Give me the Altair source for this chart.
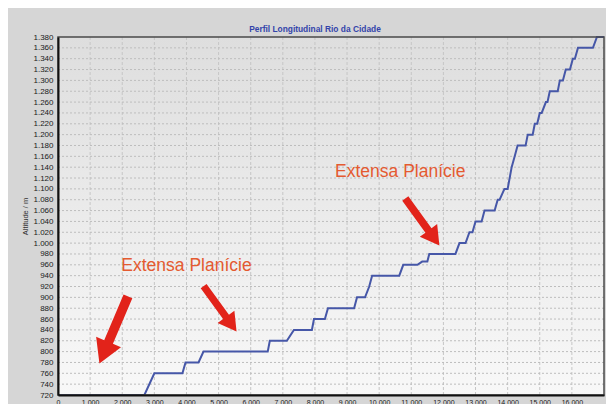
import altair as alt
import pandas as pd

# ---- data ----
distance = [0, 2690, 3000, 3875, 3970, 4375, 4530, 6530, 6595, 7125, 7345, 7905, 7970,
            8310, 8405, 9220, 9310, 9560, 9690, 9780, 10625, 10750, 11190, 11340, 11500,
            11560, 12375, 12500, 12690, 12810, 12905, 13000, 13190, 13280, 13595, 13690,
            13750, 13900, 14000, 14125, 14220, 14310, 14560, 14625, 14780, 14845, 14920,
            15000, 15060, 15190, 15240, 15312, 15560, 15625, 15720, 15810, 15940, 16030,
            16094, 16190, 16656, 16780, 17000]
altitude = [720, 720, 760, 760, 780, 780, 800, 800, 820, 820, 840, 840, 860,
            860, 880, 880, 900, 900, 920, 940, 940, 960, 960, 966, 966,
            980, 980, 1000, 1000, 1020, 1020, 1040, 1040, 1060, 1060, 1080,
            1080, 1100, 1100, 1140, 1160, 1180, 1180, 1200, 1200, 1220, 1220,
            1240, 1240, 1260, 1260, 1280, 1280, 1300, 1300, 1320, 1320, 1340,
            1340, 1360, 1360, 1380, 1380]

y_ticks = list(range(720, 1381, 20))
x_ticks = list(range(0, 16001, 1000))

note_text = ["Extensa Planície", "Extensa Planície"]
note_x = [4000, 10656]
note_y = [957, 1132]

arrow_x = [1734, 5047, 11344]
arrow_y = [840, 879, 1039]
arrow_len = [73, 56, 58]
arrow_angle = [203, 144, 144]

title_text = "Perfil Longitudinal Rio da Cidade"
y_title = "Altitude / m"

# ---- tables ----
profile = pd.DataFrame({"x": distance, "y": altitude})
ygrid = pd.DataFrame({"y": y_ticks[1:-1]})
xgrid = pd.DataFrame({"x": x_ticks[1:]})
notes = pd.DataFrame({"x": note_x, "y": note_y, "t": note_text})
arrows = pd.DataFrame({"x": arrow_x, "y": arrow_y,
                       "s": [l * l for l in arrow_len], "a": arrow_angle})
one = pd.DataFrame({"k": [0]})

W, H = 546, 358
PL, PT, PR, PB = 50, 29, 2, 9

xs = alt.Scale(domain=[0, 17000], nice=False, zero=False)
ys = alt.Scale(domain=[720, 1380], nice=False, zero=False)
dot_fmt = "replace(format(datum.value, ','), ',', '.')"
FONT = "Liberation Sans"

x_axis = alt.Axis(values=x_ticks, labelExpr=dot_fmt, grid=False, ticks=False,
                  domainColor="#111111", domainWidth=2, labelFontSize=7,
                  labelFont=FONT, labelColor="#1a1a1a", labelPadding=3,
                  labelFlush=False, labelOverlap=False, title=None, zindex=1)
y_axis = alt.Axis(values=y_ticks, labelExpr=dot_fmt, grid=False, ticks=False,
                  domainColor="#111111", domainWidth=2, labelFontSize=8,
                  labelFont=FONT, labelColor="#1a1a1a", labelPadding=5,
                  labelOverlap=False, labelFlush=False,
                  title=y_title, titleFont=FONT, titleFontSize=7.5,
                  titleFontWeight="normal", titleColor="#333333",
                  titlePadding=3, zindex=1)
X = alt.X("x:Q", scale=xs, axis=x_axis)
Y = alt.Y("y:Q", scale=ys, axis=y_axis)

plot_bg = alt.Chart(one).mark_rect(
    color=alt.Gradient(gradient="linear",
                       stops=[alt.GradientStop(color="#dedede", offset=0),
                              alt.GradientStop(color="#f8f8f8", offset=1)],
                       x1=0, x2=0, y1=0, y2=1)
).encode(x=alt.value(0), x2=alt.value(W), y=alt.value(0), y2=alt.value(H))

vgrid = alt.Chart(xgrid).mark_rule(color="#c6c6c6", strokeWidth=1, strokeDash=[3, 2]).encode(x=X)
hgrid = alt.Chart(ygrid).mark_rule(color="#bdbdbd", strokeWidth=1, strokeDash=[2, 2]).encode(y=Y)

line = alt.Chart(profile).mark_line(color="#4657a8", strokeWidth=2).encode(
    x=X, y=Y, order=alt.Order("x:Q"))

ARROW = "M0,-1 L0.37,-0.36 L0.13,-0.36 L0.13,1 L-0.13,1 L-0.13,-0.36 L-0.37,-0.36 Z"
arrow_marks = alt.Chart(arrows).mark_point(
    shape=ARROW, filled=True, color="#e2231a", opacity=1, strokeWidth=0
).encode(
    x=X, y=Y,
    size=alt.Size("s:Q", scale=None, legend=None),
    angle=alt.Angle("a:Q", scale=None),
)

note_marks = alt.Chart(notes).mark_text(
    font=FONT, fontSize=17.5, color="#e45a30", baseline="middle", align="center"
).encode(x=X, y=Y, text="t:N")

frame = alt.Chart(one).mark_rect(
    fillOpacity=0, stroke="#4a4a4a", strokeWidth=1.5
).encode(x=alt.value(0), x2=alt.value(W), y=alt.value(0), y2=alt.value(H))

chart = alt.layer(
    plot_bg, vgrid, hgrid, line, arrow_marks, note_marks, frame
).properties(
    width=W, height=H,
    padding={"left": PL, "top": PT, "right": PR, "bottom": PB},
    autosize=alt.AutoSizeParams(type="none"),
    background="#d6d6d6",
    title=alt.TitleParams(title_text, fontSize=8.4, fontWeight="bold", color="#3344aa",
                          font=FONT, offset=0, dx=-16, anchor="middle"),
).configure_view(stroke=None)

chart.save("out.html", embed_options={"renderer": "svg", "actions": False})
